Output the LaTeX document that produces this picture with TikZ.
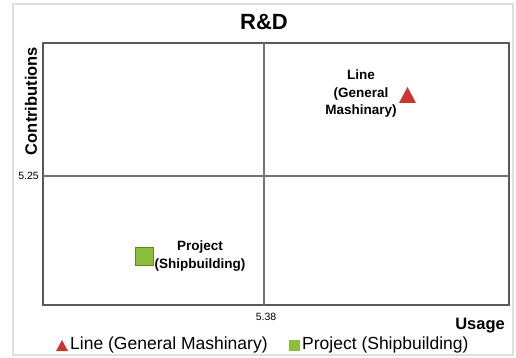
\documentclass[tikz,border=0pt]{standalone}
\usepackage{fontspec}
\setmainfont{Liberation Sans}
\definecolor{linered}{RGB}{200,55,50}
\definecolor{projgreen}{RGB}{140,190,60}
\tikzset{
  ptlabel/.style={font=\bfseries\fontsize{13.5}{17.5}\selectfont, align=center, inner sep=0pt},
  ticklabel/.style={font=\fontsize{10.5}{12}\selectfont, inner sep=0pt},
  axislabel/.style={font=\bfseries\fontsize{16.5}{19}\selectfont, inner sep=0pt},
  legendtext/.style={font=\fontsize{17.5}{20}\selectfont, inner sep=0pt, anchor=west}
}
\begin{document}
\begin{tikzpicture}[x=1pt,y=-1pt]
\useasboundingbox (0,0) rectangle (516,358);
% frames
\draw[gray!25,line width=1.2pt] (13,4) rectangle (513,355);
\draw[gray!70!black,line width=1.4pt] (43,43) rectangle (509,305);
\draw[gray!90!black,line width=1.2pt] (264,43) -- (264,305);
\draw[gray!90!black,line width=1.2pt] (43,176) -- (509,176);
% title and axes
\node[font=\bfseries\fontsize{22}{26}\selectfont] (title) at (264,22) {R\&D};
\node[axislabel,rotate=90] (ylab) at (31,101) {Contributions};
\node[ticklabel,anchor=east] (ytick) at (39,176) {5.25};
\node[ticklabel] (xtick) at (266,317) {5.38};
\node[axislabel,anchor=east] (xlab) at (505,326) {Usage};
% points
\fill[linered] (399,103) -- (416,103) -- (407.5,87) -- cycle;
\node[ptlabel] (linelbl) at (361,94) {Line\\(General\\Mashinary)};
\fill[projgreen,draw=projgreen!70!black,line width=0.4pt] (135,247) rectangle (153,265);
\node[ptlabel] (projlbl) at (200,256) {Project\\(Shipbuilding)};
% legend
\fill[linered] (56,351) -- (68,351) -- (62,340) -- cycle;
\node[legendtext] (leg1) at (70,345) {Line (General Mashinary)};
\fill[projgreen] (289,340) rectangle (300,351);
\node[legendtext] (leg2) at (302,345) {Project (Shipbuilding)};
\end{tikzpicture}
\end{document}
